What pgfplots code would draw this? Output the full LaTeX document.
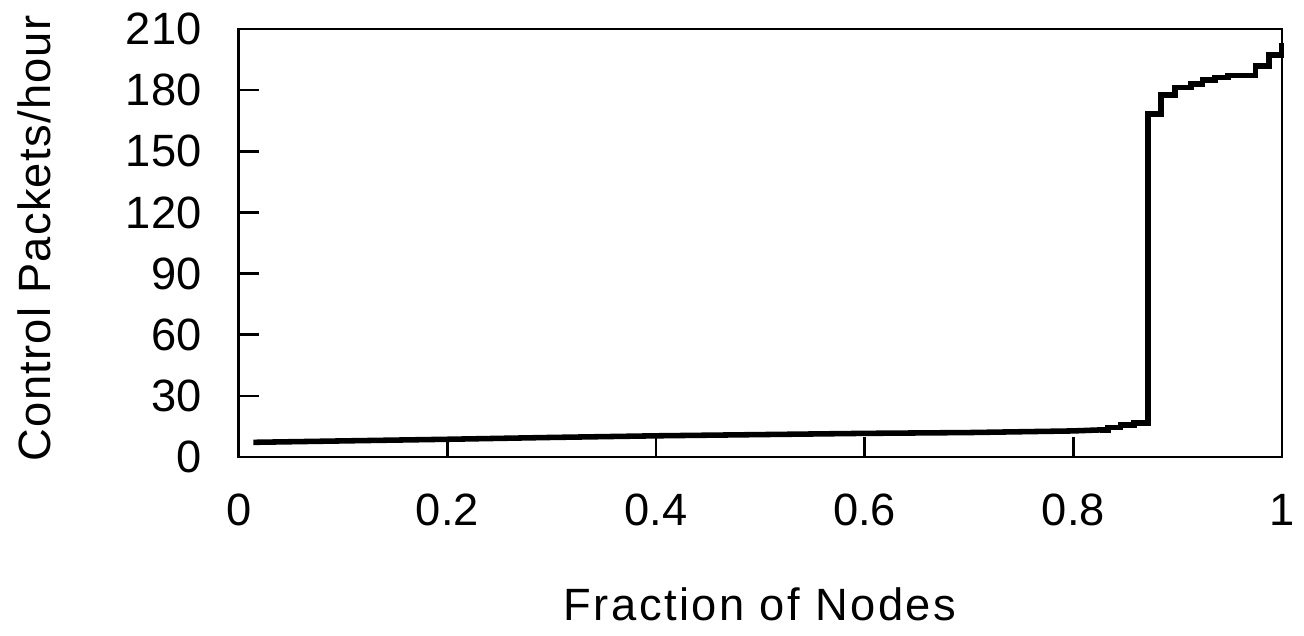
\documentclass[border=0pt]{standalone}
\usepackage{fontspec}
\setmainfont{Liberation Sans}
\usepackage{pgfplots}
\pgfplotsset{compat=1.18}
\begin{document}
\begin{tikzpicture}
\path[use as bounding box] (-85.93pt,-64.08pt) rectangle (383.51pt,164.52pt);
\begin{axis}[
  at={(0,0)}, anchor=south west,
  scale only axis,
  width=375.6pt, height=154.08pt,
  xmin=0, xmax=1, ymin=0, ymax=210,
  xtick={0,0.2,0.4,0.6,0.8,1},
  xticklabels={0,0.2,0.4,0.6,0.8,1},
  ytick={0,30,60,90,120,150,180,210},
  tick align=inside,
  xtick pos=bottom, ytick pos=left,
  major tick length=7.2pt,
  every tick/.style={black, line width=0.9pt},
  axis line style={line width=1pt},
  /pgf/number format/assume math mode=true,
  tick label style={font=\fontsize{16.3}{19}\selectfont},
  xticklabel style={anchor=base, inner sep=0pt, yshift=-24.5pt},
  yticklabel style={anchor=east, inner sep=0pt, xshift=-13.2pt},
  every axis x label/.style={at={(axis description cs:0.4996,0)}, anchor=base, yshift=-58.7pt, inner sep=0pt},
  every axis y label/.style={at={(axis description cs:-0.1807,0.511)}, rotate=90, anchor=base, inner sep=0pt},
  label style={font=\fontsize{16.3}{19}\selectfont},
  xlabel={\addfontfeatures{LetterSpace=5.5}Fraction of Nodes},
  ylabel={\addfontfeatures{LetterSpace=2.8}Control Packets/hour},
  clip=false,
]
\addplot[black, line width=2pt, line join=miter] coordinates {
  (0.014,7.2) (0.1,7.9) (0.2,8.7) (0.3,9.6) (0.4,10.4) (0.5,11.0)
  (0.6,11.6) (0.7,12.0) (0.8,12.8) (0.826,13.3)
};
\addplot[black, line width=2pt, line join=miter, const plot mark left] coordinates {
  (0.826,13.3) (0.833,14.5) (0.845,15.7) (0.858,16.8) (0.8716,168.3)
  (0.884,177.6) (0.8975,181.4) (0.9125,183.0) (0.9237,185.0) (0.936,186.3)
  (0.948,187.1) (0.9745,191.9) (0.9875,197.3) (0.9993,203)
};
\end{axis}
\end{tikzpicture}
\end{document}
